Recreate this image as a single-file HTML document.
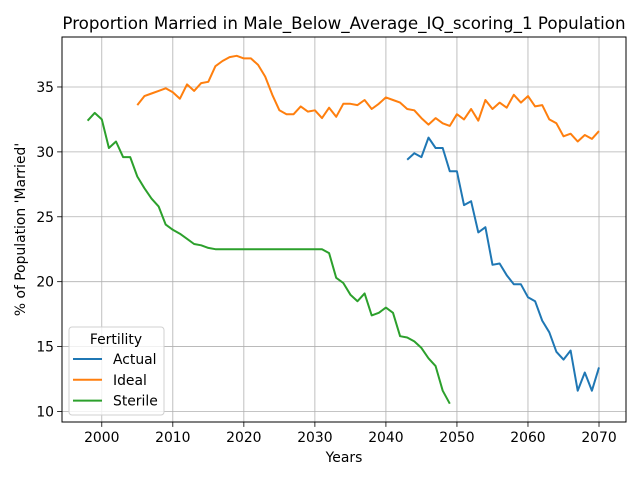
<!DOCTYPE html>
<html><head><meta charset="utf-8"><style>
body{margin:0;background:#fff}
svg text{font-family:"DejaVu Sans","Liberation Sans",sans-serif}
</style></head><body>
<svg id="chart" width="640" height="480" xmlns="http://www.w3.org/2000/svg"></svg>
<script>
const actualYears=[2043,2044,2045,2046,2047,2048,2049,2050,2051,2052,2053,2054,2055,2056,2057,2058,2059,2060,2061,2062,2063,2064,2065,2066,2067,2068,2069,2070];
const actualVals=[29.4,29.9,29.6,31.1,30.3,30.3,28.5,28.5,25.9,26.2,23.8,24.2,21.3,21.4,20.5,19.8,19.8,18.8,18.5,17.0,16.1,14.6,14.0,14.7,11.6,13.0,11.6,13.4];
const idealStart=2005;
const idealVals=[33.6,34.3,34.5,34.7,34.9,34.6,34.1,35.2,34.7,35.3,35.4,36.6,37.0,37.3,37.4,37.2,37.2,36.7,35.8,34.4,33.2,32.9,32.9,33.5,33.1,33.2,32.6,33.4,32.7,33.7,33.7,33.6,34.0,33.3,33.7,34.2,34.0,33.8,33.3,33.2,32.6,32.1,32.6,32.2,32.0,32.9,32.5,33.3,32.4,34.0,33.3,33.8,33.4,34.4,33.8,34.3,33.5,33.6,32.5,32.2,31.2,31.4,30.8,31.3,31.0,31.6];
const sterileStart=1998;
const sterileVals=[32.4,33.0,32.5,30.3,30.8,29.6,29.6,28.1,27.2,26.4,25.8,24.4,24.0,23.7,23.3,22.9,22.8,22.6,22.5,22.5,22.5,22.5,22.5,22.5,22.5,22.5,22.5,22.5,22.5,22.5,22.5,22.5,22.5,22.5,22.2,20.3,19.9,19.0,18.5,19.1,17.4,17.6,18.0,17.6,15.8,15.7,15.4,14.9,14.1,13.5,11.6,10.6];
const xTicks=[2000,2010,2020,2030,2040,2050,2060,2070];
const yTicks=[10,15,20,25,30,35];

const L=62,R=626,T=37,B=422,x0=1994.4,x1=2073.8,y0=9.19,y1=38.85;
const sx=v=>L+(v-x0)/(x1-x0)*(R-L);
const sy=v=>B-(v-y0)/(y1-y0)*(B-T);
const svg=document.getElementById('chart');
const NS='http://www.w3.org/2000/svg';
function mk(tag,attrs,parent){const e=document.createElementNS(NS,tag);for(const k in attrs)e.setAttribute(k,attrs[k]);(parent||svg).appendChild(e);return e;}
function txt(s,attrs){const e=mk('text',attrs);e.textContent=s;return e;}

const grid=mk('g',{});


xTicks.forEach(t=>{const X=sx(t);
 mk('line',{x1:X,x2:X,y1:T,y2:B,stroke:'#b0b0b0','stroke-width':0.8},grid);
 mk('line',{x1:X,x2:X,y1:B,y2:B+4.9,stroke:'#000','stroke-width':0.8},grid);
 const e=txt(t,{x:X,y:B+20,'text-anchor':'middle','font-size':13.9});
 
 
});
yTicks.forEach(t=>{const Y=sy(t);
 mk('line',{x1:L,x2:R,y1:Y,y2:Y,stroke:'#b0b0b0','stroke-width':0.8},grid);
 mk('line',{x1:L-4.9,x2:L,y1:Y,y2:Y,stroke:'#000','stroke-width':0.8},grid);
 const e=txt(t,{x:L-8,y:Y+5,'text-anchor':'end','font-size':13.9});
 
 
});
function line(xs,ys,color,name){
 const d=xs.map((x,i)=>(i?'L':'M')+sx(x).toFixed(1)+','+sy(ys[i]).toFixed(1)).join('');
 const p=mk('path',{d:d,fill:'none',stroke:color,'stroke-width':2,'stroke-linejoin':'round'});
 
 
}
line(actualYears,actualVals,'#1f77b4','actual-line');
line(idealVals.map((_,i)=>idealStart+i),idealVals,'#ff7f0e','ideal-line');
line(sterileVals.map((_,i)=>sterileStart+i),sterileVals,'#2ca02c','sterile-line');
const frame=mk('rect',{x:L,y:T,width:R-L,height:B-T,fill:'none',stroke:'#000','stroke-width':1});


let e=txt("Proportion Married in Male_Below_Average_IQ_scoring_1 Population",{x:(L+R)/2,y:29,'text-anchor':'middle','font-size':16.7});

e=txt('Years',{x:(L+R)/2,y:462,'text-anchor':'middle','font-size':13.9});

e=txt("% of Population 'Married'",{x:0,y:0,'text-anchor':'middle','font-size':13.9,transform:'translate(25,'+((T+B)/2)+') rotate(-90)'});

const lg=mk('g',{});


mk('rect',{x:69,y:327,width:95,height:88,rx:3,fill:'#fff','fill-opacity':0.8,stroke:'#d0d0d0'},lg);
e=txt('Fertility',{x:116,y:344,'text-anchor':'middle','font-size':13.9});lg.appendChild(e);
[['Actual','#1f77b4'],['Ideal','#ff7f0e'],['Sterile','#2ca02c']].forEach((s,i)=>{
 const y=359+i*20.8;
 const g=mk('g',{},lg);
 
 
 mk('line',{x1:73,x2:102,y1:y,y2:y,stroke:s[1],'stroke-width':2},g);
 const t=txt(s[0],{x:113,y:y+5,'font-size':13.9});g.appendChild(t);
});
</script>
</body></html>
